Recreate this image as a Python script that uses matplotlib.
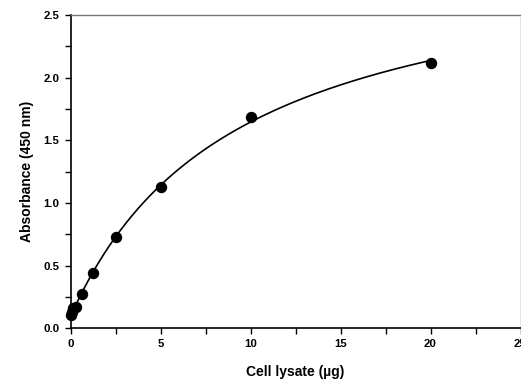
import matplotlib.pyplot as plt
import numpy as np

# Standard curve data
lysate = [0, 0.078, 0.156, 0.3125, 0.625, 1.25, 2.5, 5, 10, 20]  # ug
absorb = [0.105, 0.13, 0.16, 0.17, 0.27, 0.44, 0.725, 1.125, 1.685, 2.12]

xticks = [0, 5, 10, 15, 20, 25]
yticks = [0.0, 0.5, 1.0, 1.5, 2.0, 2.5]

plt.rcParams['font.family'] = ['Liberation Sans', 'DejaVu Sans']
plt.rcParams['font.weight'] = 'bold'

# Fit a saturation curve y = a + b*x/(c+x) to the points
x = np.array(lysate)
y = np.array(absorb)
best = None
for c in np.linspace(1, 60, 600):
    A = np.column_stack([np.ones_like(x), x / (c + x)])
    coef, res, _, _ = np.linalg.lstsq(A, y, rcond=None)
    err = np.sum((A @ coef - y) ** 2)
    if best is None or err < best[0]:
        best = (err, c, coef)
_, c, (a, b) = best
xf = np.linspace(0, max(lysate), 300)
yf = a + b * xf / (c + xf)

fig = plt.figure(figsize=(5.21, 3.82), dpi=100)
ax = fig.add_axes([70.5 / 521, 53.7 / 382, 450 / 521, 313.3 / 382])

ax.plot(xf, yf, 'k-', linewidth=1.2)
ax.plot(lysate, absorb, 'ko', markersize=7.2, clip_on=False, zorder=3)

ax.set_xlim(0, 25)
ax.set_ylim(0, 2.5)
ax.set_xticks(xticks)
ax.set_xticklabels([str(t) for t in xticks])
ax.set_yticks(yticks)
ax.set_yticklabels([f'{t:.1f}' for t in yticks])
ax.set_xticks(np.arange(2.5, 25, 5), minor=True)
ax.set_yticks(np.arange(0.25, 2.5, 0.5), minor=True)
ax.tick_params(which='both', direction='out', length=4, width=1, labelsize=8.2, pad=4)

for side in ['left', 'bottom']:
    ax.spines[side].set_linewidth(1.2)
for side in ['top', 'right']:
    ax.spines[side].set_color('#777777')
    ax.spines[side].set_linewidth(1.0)

ax.set_xlabel('Cell lysate (µg)', fontsize=10, fontweight='bold', labelpad=11)
ax.set_ylabel('Absorbance (450 nm)', fontsize=10, fontweight='bold', labelpad=7)

fig.savefig('out.png', dpi=100)
